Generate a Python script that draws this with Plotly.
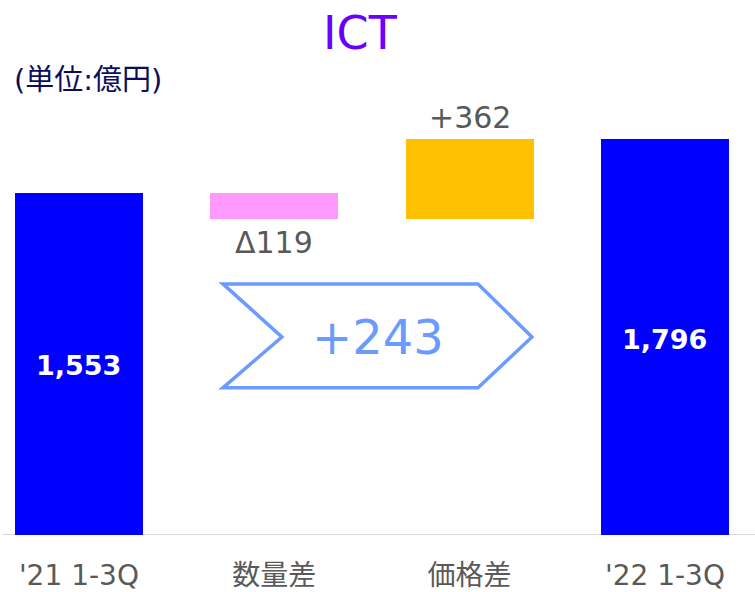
import plotly.graph_objects as go

categories = ["'21 1-3Q", "数量差", "価格差", "'22 1-3Q"]
start_value = 1553
volume_diff = -119
price_diff = 362
end_value = 1796
total_diff = 243

values = [start_value, volume_diff, price_diff, end_value]
colors = ["#0000FF", "#FF99FF", "#FFC000", "#0000FF"]

# waterfall bases / heights
bases = []
heights = []
running = 0
for i, v in enumerate(values):
    if i == 0 or i == len(values) - 1:
        bases.append(0)
        heights.append(v)
        running = v
    else:
        if v < 0:
            bases.append(running + v)
            heights.append(-v)
        else:
            bases.append(running)
            heights.append(v)
        running += v

FONT = "DejaVu Sans, Noto Sans CJK JP"
GRAY = "#595959"

fig = go.Figure()
fig.add_trace(go.Bar(
    x=categories, y=heights, base=bases,
    marker=dict(color=colors, line=dict(width=0)),
    width=0.655, hoverinfo="skip", showlegend=False,
))

ann = []
for i in (0, 3):
    ann.append(dict(x=categories[i], y=values[i] / 2, text=f"<b>{values[i]:,}</b>",
                    showarrow=False, font=dict(family=FONT, size=27, color="white"),
                    xref="x", yref="y", yshift=-2))
ann.append(dict(x=categories[1], y=bases[1], text=f"Δ{abs(volume_diff)}",
                showarrow=False, yanchor="top", yshift=-4,
                font=dict(family=FONT, size=30, color=GRAY)))
ann.append(dict(x=categories[2], y=bases[2] + heights[2], text=f"+{price_diff}",
                showarrow=False, yanchor="bottom", yshift=2,
                font=dict(family=FONT, size=30, color=GRAY)))
ann.append(dict(x=1.53, y=899, text=f"+{total_diff}", showarrow=False,
                font=dict(family=FONT, size=48, color="#6B9BFF"), xref="x", yref="y"))
ann.append(dict(x=0.016, y=1.0, xref="paper", yref="paper", text="(単位:億円)",
                showarrow=False, xanchor="left", yanchor="middle", yshift=20,
                font=dict(family=FONT, size=29, color="#0D0D5E")))
ann.append(dict(x=0.477, y=1.0, xref="paper", yref="paper", text="ICT",
                showarrow=False, xanchor="center", yanchor="middle", yshift=67,
                font=dict(family=FONT, size=46, color="#6A00FF")))

path = "M 0.737 1140 L 2.043 1140 L 2.319 899 L 2.043 668 L 0.737 668 L 1.039 899 Z"
fig.add_shape(type="path", path=path, xref="x", yref="y",
              line=dict(color="#6B9BFF", width=3.5), fillcolor="white", layer="above")

fig.update_layout(
    width=755, height=592,
    margin=dict(l=0, r=0, t=100, b=57),
    paper_bgcolor="white", plot_bgcolor="white",
    annotations=ann,
    xaxis=dict(range=[-0.404, 3.461], showgrid=False, zeroline=False, automargin=False,
               showline=False, ticks="outside", ticklen=15, tickcolor="rgba(0,0,0,0)",
               tickfont=dict(family=FONT, size=28, color=GRAY)),
    yaxis=dict(range=[0, 1975], visible=False, automargin=False),
    bargap=0,
)
fig.add_shape(type="line", xref="paper", yref="y", x0=0.003, x1=1, y0=0, y1=0,
              line=dict(color="#D9D9D9", width=2), layer="below")
fig.write_html("out.html", config={"displayModeBar": False},
               post_script="document.body.style.margin='0';")
